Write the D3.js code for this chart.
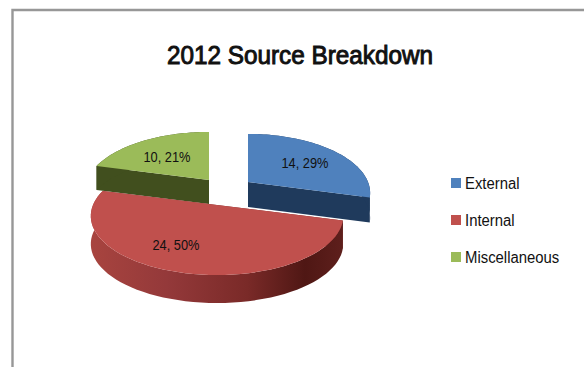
<!DOCTYPE html>
<html>
<head>
<meta charset="utf-8">
<script src="https://cdn.jsdelivr.net/npm/d3@7"></script>
<style>
  html, body { margin: 0; padding: 0; background: #fff; }
  text { font-family: "Liberation Sans", Arial, sans-serif; fill: #111; }
</style>
</head>
<body>
<script>
const categories = ["External", "Internal", "Miscellaneous"];
const values = [14, 24, 10];
const percents = [29, 50, 21];
const topColors = ["#4f81bd", "#c0504d", "#9bbb59"];
const sideColors = ["#1f3a5c", "url(#redSide)", "#414f1e"];
const chartTitle = "2012 Source Breakdown";

const width = 584, height = 367;
const svg = d3.select("body").append("svg")
  .attr("width", width).attr("height", height)
  .style("display", "block");

const grad = svg.append("defs").append("linearGradient").attr("id", "redSide");
[[0, "#a8443f"], [0.3, "#94393a"], [0.62, "#7a2a28"], [0.85, "#4f1714"], [1, "#5e1f1c"]]
  .forEach(([o, c]) => grad.append("stop").attr("offset", o).attr("stop-color", c));

// Chart frame: only the top and left borders fall inside the page.
svg.append("path")
  .attr("d", "M12.5,367V10H584")
  .attr("fill", "none").attr("stroke", "#979797").attr("stroke-width", 2.4);

svg.append("text").attr("x", 300).attr("y", 64)
  .attr("text-anchor", "middle")
  .attr("font-size", 25)
  .attr("stroke", "#111").attr("stroke-width", 0.95)
  .attr("textLength", 266).attr("lengthAdjust", "spacingAndGlyphs")
  .text(chartTitle);

// Tilted disc with perspective: the far half is foreshortened relative to the near half.
const persp = 0.186, yScale = 57;
function project(angle, r, disc) {
  const X = Math.sin(angle) * r, Y = Math.cos(angle) * r;
  const k = 1 / (1 + persp * Y);
  return [disc.cx + X * disc.rx * k, disc.cy - Y * yScale * k];
}

const pie = d3.pie().sort(null).value(d => d)(values);
// Exploded positions of each slice and the extrusion depth.
const discs = [
  { cx: 248, cy: 182, rx: 120, depth: 25 },
  { cx: 217, cy: 205, rx: 124, depth: 28 },
  { cx: 209, cy: 180, rx: 122, depth: 24 }
];
const labelOffsets = [[57, -20], [-41, 39], [-42, -24]];

const line = d3.line();
const angleSteps = (a0, a1) => d3.range(0, 61).map(i => a0 + (a1 - a0) * i / 60);
const rimOf = (s, d) => angleSteps(s.startAngle, s.endAngle).map(a => project(a, 1, d));
const drop = (p, d) => [p[0], p[1] + d.depth];

function topPath(s, d) {
  return line([[d.cx, d.cy], ...rimOf(s, d)]) + "Z";
}
function wallPath(s, d) {
  const rim = rimOf(s, d);
  return line([...rim, ...rim.map(p => drop(p, d)).reverse()]) + "Z";
}
function cutFace(p, d) {
  const v = [d.cx, d.cy];
  return line([v, p, drop(p, d), drop(v, d)]) + "Z";
}

// Paint back slices first so the large near slice overlaps them.
const order = [2, 0, 1];
const pieG = svg.append("g");
order.forEach(i => {
  const rim = rimOf(pie[i], discs[i]);
  [rim[0], rim[rim.length - 1]].forEach(p => {
    pieG.append("path").attr("d", cutFace(p, discs[i]))
      .attr("fill", i === 1 ? "#7a2a28" : sideColors[i]);
  });
  pieG.append("path").attr("d", wallPath(pie[i], discs[i])).attr("fill", sideColors[i]);
  pieG.append("path").attr("d", topPath(pie[i], discs[i])).attr("fill", topColors[i]);
});

svg.append("g").selectAll("text").data(values).join("text")
  .attr("x", (d, i) => discs[i].cx + labelOffsets[i][0])
  .attr("y", (d, i) => discs[i].cy + labelOffsets[i][1] + 5.5)
  .attr("text-anchor", "middle").attr("font-size", 15.5)
  .attr("textLength", 47).attr("lengthAdjust", "spacingAndGlyphs")
  .text((d, i) => `${d}, ${percents[i]}%`);

// Legend
const legendY = d3.scalePoint().domain(categories).range([183, 257]);
const legend = svg.append("g").selectAll("g").data(categories).join("g")
  .attr("transform", d => `translate(451,${legendY(d)})`);
legend.append("rect").attr("x", 0).attr("y", -5).attr("width", 10).attr("height", 10)
  .attr("fill", (d, i) => topColors[i]);
legend.append("text").attr("x", 14).attr("y", 6).attr("font-size", 16)
  .each(function (d) {
    const t = d3.select(this).text(d);
    t.attr("textLength", this.getComputedTextLength() * 0.93)
      .attr("lengthAdjust", "spacingAndGlyphs");
  });
</script>
</body>
</html>
